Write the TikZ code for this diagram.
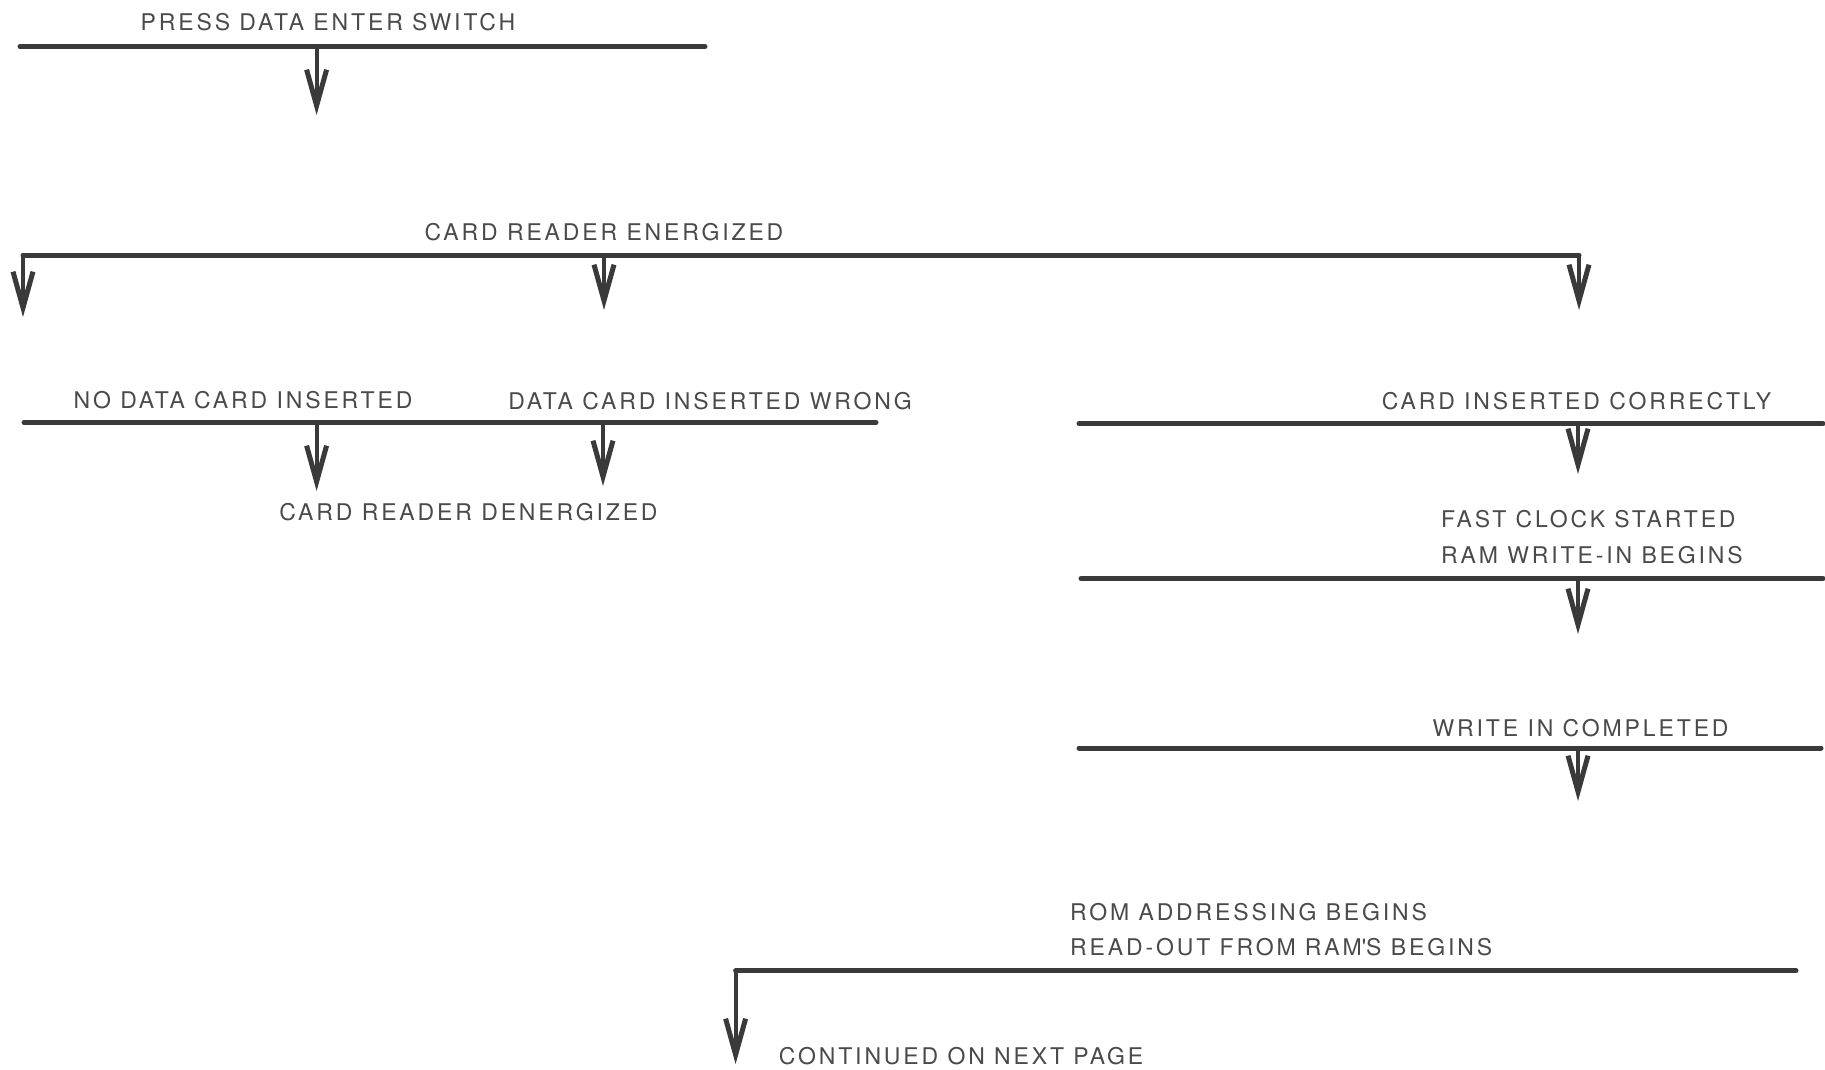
\documentclass[tikz,border=0pt]{standalone}
\usepackage{fontspec}
\setmainfont{TeX Gyre Heros}[LetterSpace=12.5]
\usetikzlibrary{arrows.meta}
\definecolor{inkC}{HTML}{3A3A3A}
\definecolor{txtC}{HTML}{4A4A4A}
\begin{document}
\begin{tikzpicture}[x=1pt,y=-1pt,
  bar/.style={line width=5pt, draw=inkC, line cap=round},
  flow/.style={line width=4pt, draw=inkC, -{Straight Barb[length=36pt,width=20pt,line width=5pt]}},
  lbl/.style={font=\fontsize{23}{27}\selectfont, text=txtC, inner sep=0pt}]
\useasboundingbox (0,0) rectangle (1825,1070);
% texts
\node[lbl] (t1) at (328,22) {PRESS DATA ENTER SWITCH};
\node[lbl] (t2) at (604,232) {CARD READER ENERGIZED};
\node[lbl] (t3) at (243,400) {NO DATA CARD INSERTED};
\node[lbl] (t4) at (710,401.5) {DATA CARD INSERTED WRONG};
\node[lbl] (t5) at (468.5,512) {CARD READER DENERGIZED};
\node[lbl] (t6) at (1576.5,401.5) {CARD INSERTED CORRECTLY};
\node[lbl,anchor=west] (t7) at (1441,519) {FAST CLOCK STARTED};
\node[lbl,anchor=west] (t8) at (1441,555) {RAM WRITE-IN BEGINS};
\node[lbl] (t9) at (1580.6,728.6) {WRITE IN COMPLETED};
\node[lbl,anchor=west] (t10) at (1070,912.5) {ROM ADDRESSING BEGINS};
\node[lbl,anchor=west] (t11) at (1070,947.5) {READ-OUT FROM RAM\textquotesingle S BEGINS};
\node[lbl,anchor=west] (t12) at (778.6,1055.7) {CONTINUED ON NEXT PAGE};
% bar ends and arrow points
\coordinate (b1l) at (20,46.6); \coordinate (b1r) at (705,46.6);
\coordinate (b1a) at (316.6,46.6); \coordinate (e1) at (316.6,115);
\coordinate (b2l) at (23,255); \coordinate (b2r) at (1579,255);
\coordinate (b2m) at (604,255);
\coordinate (e2l) at (23,317); \coordinate (e2m) at (604,310); \coordinate (e2r) at (1579,310);
\coordinate (b3l) at (24,422.5); \coordinate (b3r) at (876,422.5);
\coordinate (b3a) at (316.6,422.5); \coordinate (b3b) at (603,422.5);
\coordinate (e3a) at (316.6,491); \coordinate (e3b) at (603,486);
\coordinate (b4l) at (1079,423.7); \coordinate (b4r) at (1823,423.7);
\coordinate (b4a) at (1578,423.7); \coordinate (e4) at (1578,474);
\coordinate (b5l) at (1081,578.5); \coordinate (b5r) at (1823,578.5);
\coordinate (b5a) at (1578,578.5); \coordinate (e5) at (1578,634);
\coordinate (b6l) at (1079,748); \coordinate (b6r) at (1821,748);
\coordinate (b6a) at (1578,748); \coordinate (e6) at (1578,801);
\coordinate (b7l) at (735.6,970.7); \coordinate (b7r) at (1796,970.7);
\coordinate (e7) at (735.6,1064);
% bars
\draw[bar] (b1l) -- (b1r);
\draw[bar] (b2l) -- (b2r);
\draw[bar] (b3l) -- (b3r);
\draw[bar] (b4l) -- (b4r);
\draw[bar] (b5l) -- (b5r);
\draw[bar] (b6l) -- (b6r);
\draw[bar] (b7l) -- (b7r);
% arrows
\draw[flow] (b1a) -- (e1);
\draw[flow] (b2l) -- (e2l);
\draw[flow] (b2m) -- (e2m);
\draw[flow] (b2r) -- (e2r);
\draw[flow] (b3a) -- (e3a);
\draw[flow] (b3b) -- (e3b);
\draw[flow] (b4a) -- (e4);
\draw[flow] (b5a) -- (e5);
\draw[flow] (b6a) -- (e6);
\draw[flow] (b7l) -- (e7);
\end{tikzpicture}
\end{document}
